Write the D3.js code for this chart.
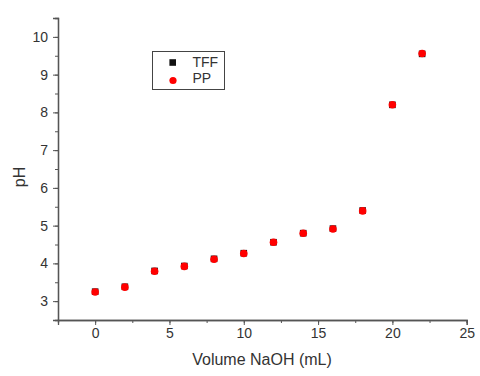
<!DOCTYPE html>
<html><head><meta charset="utf-8">
<script src="https://cdn.jsdelivr.net/npm/d3@7"></script>
<style>body{margin:0;background:#fff}svg{display:block}text{font-family:"Liberation Sans",Arial,sans-serif;fill:#333}</style>
</head><body><svg id="c" width="480" height="376"></svg>
<script>
const volume = [0,2,4,6,8,10,12,14,16,18,20,22];
const tffPH = [3.25,3.38,3.80,3.93,4.12,4.27,4.56,4.80,4.92,5.40,8.20,9.55];
const ppPH  = [3.24,3.37,3.79,3.92,4.11,4.26,4.56,4.80,4.91,5.39,8.20,9.56];
const xTicks = [0,5,10,15,20,25];
const yTicks = [3,4,5,6,7,8,9,10];
const seriesNames = ["TFF","PP"];

const svg = d3.select("#c");
const x = d3.scaleLinear().domain([-2.5,25]).range([58,466.7]);
const y = d3.scaleLinear().domain([2.5,10.5]).range([320,18]);
const axCol = "#555";
const ff = "Liberation Sans, Arial, sans-serif";

const gx = svg.append("g").attr("transform","translate(0,320)");
gx.call(d3.axisBottom(x).tickValues(d3.range(-2.5,25.01,2.5)).tickSize(3).tickFormat(""));
gx.append("g").call(d3.axisBottom(x).tickValues(xTicks).tickSize(5).tickPadding(3).tickFormat(d3.format("d")));
gx.selectAll("path").attr("stroke",axCol).attr("stroke-width",1.3);
gx.selectAll("line").attr("stroke",axCol);
gx.selectAll("text").attr("font-size",14).attr("fill","#333").style("font-family",ff);

const gy = svg.append("g").attr("transform","translate(58,0)");
gy.call(d3.axisLeft(y).tickValues(d3.range(2.5,10.51,0.5)).tickSize(3).tickFormat(""));
gy.append("g").call(d3.axisLeft(y).tickValues(yTicks).tickSize(5).tickPadding(5).tickFormat(d3.format("d")));
gy.selectAll("path").attr("stroke",axCol).attr("stroke-width",1.3);
gy.selectAll("line").attr("stroke",axCol);
gy.selectAll("text").attr("font-size",14).attr("fill","#333").style("font-family",ff);

svg.append("text").attr("x",262).attr("y",365).attr("text-anchor","middle").attr("font-size",16).text("Volume NaOH (mL)");
svg.append("text").attr("transform","translate(25,177) rotate(-90)").attr("text-anchor","middle").attr("font-size",16).text("pH");

svg.append("g").selectAll("rect").data(volume).join("rect")
  .attr("x",(d)=>x(d)-3.3).attr("y",(d,i)=>y(tffPH[i])-3.3).attr("width",6.6).attr("height",6.6).attr("fill","#111");
svg.append("g").selectAll("circle").data(volume).join("circle")
  .attr("cx",(d)=>x(d)).attr("cy",(d,i)=>y(ppPH[i])).attr("r",3.8).attr("fill","#f00");

const lg = svg.append("g");
lg.append("rect").attr("x",152.5).attr("y",51.5).attr("width",72).attr("height",38).attr("fill","#fff").attr("stroke","#444").attr("stroke-width",1);
lg.append("rect").attr("x",169.4).attr("y",59.2).attr("width",6.6).attr("height",6.6).attr("fill","#111");
lg.append("circle").attr("cx",173).attr("cy",80.5).attr("r",3.6).attr("fill","#f00");
lg.append("text").attr("x",192.5).attr("y",66.7).attr("font-size",14).text(seriesNames[0]);
lg.append("text").attr("x",192.5).attr("y",83.3).attr("font-size",14).text(seriesNames[1]);
</script></body></html>
